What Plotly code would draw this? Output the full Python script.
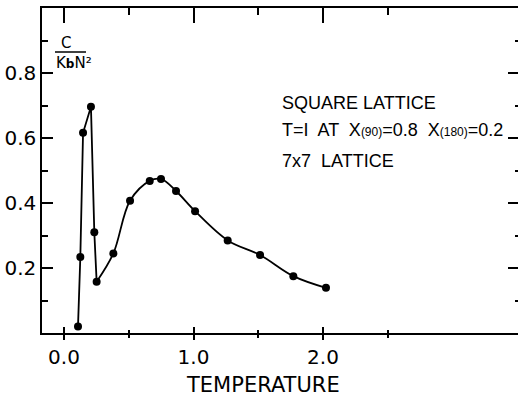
import plotly.graph_objects as go

# data
temperature = [0.108, 0.126, 0.147, 0.208, 0.234, 0.252, 0.381, 0.51, 0.662, 0.749,
               0.865, 1.012, 1.264, 1.514, 1.771, 2.023]
specific_heat = [0.02, 0.234, 0.616, 0.696, 0.31, 0.158, 0.245, 0.407, 0.468, 0.474,
                 0.437, 0.375, 0.285, 0.24, 0.175, 0.139]
peak_end = 6  # sharp low-temperature peak drawn with straight segments up to this index

x_major = [0.0, 1.0, 2.0]
x_major_text = ["0.0", "1.0", "2.0"]
x_minor = [0.5, 1.5, 2.5]
y_major = [0.2, 0.4, 0.6, 0.8]
y_major_text = ["0.2", "0.4", "0.6", "0.8"]
y_minor = [0.1, 0.3, 0.5, 0.7, 0.9]

XR = [-0.17, 3.506]
YR = [0.0, 1.0]
FONT = "DejaVu Sans"
FONT2 = "Liberation Sans"
BLK = "black"

fig = go.Figure()
fig.add_trace(go.Scatter(
    x=temperature[:peak_end], y=specific_heat[:peak_end], mode="lines",
    line=dict(color=BLK, width=1.8), showlegend=False, hoverinfo="skip"))
fig.add_trace(go.Scatter(
    x=temperature[peak_end - 1:], y=specific_heat[peak_end - 1:], mode="lines",
    line=dict(color=BLK, width=1.8, shape="spline", smoothing=1.0),
    showlegend=False, hoverinfo="skip"))
fig.add_trace(go.Scatter(
    x=temperature, y=specific_heat, mode="markers",
    marker=dict(color=BLK, size=8), showlegend=False, hoverinfo="skip"))
# helper traces so overlay axes get drawn
fig.add_trace(go.Scatter(x=temperature, y=specific_heat, mode="none", xaxis="x2", yaxis="y",
                         showlegend=False, hoverinfo="skip"))
fig.add_trace(go.Scatter(x=temperature, y=specific_heat, mode="none", xaxis="x3", yaxis="y",
                         showlegend=False, hoverinfo="skip"))
fig.add_trace(go.Scatter(x=temperature, y=specific_heat, mode="none", xaxis="x", yaxis="y2",
                         showlegend=False, hoverinfo="skip"))

fig.update_layout(
    width=518, height=398,
    margin=dict(l=42, r=0, t=8, b=65),
    paper_bgcolor="white", plot_bgcolor="white",
    font=dict(family=FONT, color=BLK, size=20),
    xaxis=dict(range=XR, showline=True, linecolor=BLK, linewidth=1.5, showgrid=False,
               zeroline=False, ticks="outside", ticklen=5, tickwidth=1.5, tickcolor=BLK,
               tickmode="array", tickvals=x_major, ticktext=x_major_text,
               tickfont=dict(size=20, family=FONT),
               minor=dict(tickmode="array", tickvals=x_minor, ticklen=3, tickwidth=1.5,
                          tickcolor=BLK, ticks="outside")),
    xaxis2=dict(range=XR, overlaying="x", side="bottom", anchor="y", showline=False,
                showgrid=False, zeroline=False, ticks="inside", ticklen=6, tickwidth=1.5,
                tickcolor=BLK, tickmode="array", tickvals=x_major, showticklabels=False,
                minor=dict(tickmode="array", tickvals=x_minor, ticklen=3, tickwidth=1.5,
                           tickcolor=BLK, ticks="inside")),
    xaxis3=dict(range=XR, overlaying="x", side="top", anchor="y", showline=True,
                linecolor=BLK, linewidth=1.5, showgrid=False, zeroline=False,
                ticks="inside", ticklen=15, tickwidth=1.5, tickcolor=BLK,
                tickmode="array", tickvals=x_major, showticklabels=False,
                minor=dict(tickmode="array", tickvals=x_minor, ticklen=7, tickwidth=1.5,
                           tickcolor=BLK, ticks="inside")),
    yaxis=dict(range=YR, showline=True, linecolor=BLK, linewidth=1.5, showgrid=False,
               zeroline=False, ticks="inside", ticklen=11, tickwidth=1.5, tickcolor=BLK,
               tickmode="array", tickvals=y_major, ticktext=y_major_text,
               tickfont=dict(size=20, family=FONT),
               minor=dict(tickmode="array", tickvals=y_minor, ticklen=6, tickwidth=1.5,
                          tickcolor=BLK, ticks="inside")),
    yaxis2=dict(range=YR, overlaying="y", side="right", anchor="x", showline=False,
                showgrid=False, zeroline=False, ticks="inside", ticklen=10, tickwidth=1.5,
                tickcolor=BLK, tickmode="array", tickvals=y_major, showticklabels=False,
                minor=dict(tickmode="array", tickvals=y_minor, ticklen=3, tickwidth=1.5,
                           tickcolor=BLK, ticks="inside")),
)

def px_x(px):
    return (px - 42) / 476.0

def px_y(py):
    return (333 - py) / 325.0

ann = [
    dict(text="SQUARE LATTICE", x=px_x(280), y=px_y(103), xanchor="left", size=18, font=FONT2),
    dict(text="T=I  AT  X<span style='font-size:12px'>(90)</span>=0.8  X<span style='font-size:12px'>(180)</span>=0.2",
         x=px_x(280), y=px_y(130), xanchor="left", size=18, font=FONT2),
    dict(text="7x7  LATTICE", x=px_x(280), y=px_y(161), xanchor="left", size=18, font=FONT2),
    dict(text="C", x=px_x(66), y=px_y(43), xanchor="center", size=15, font=FONT),
    dict(text="K<b><span style='font-size:12px'>b</span></b>N²", x=px_x(74), y=px_y(63),
         xanchor="center", size=15, font=FONT),
    dict(text="TEMPERATURE", x=px_x(263), y=px_y(385), xanchor="center", size=21, font=FONT),
]
for a in ann:
    fig.add_annotation(text=a["text"], x=a["x"], y=a["y"], xref="paper", yref="paper",
                       xanchor=a["xanchor"], yanchor="middle", showarrow=False,
                       font=dict(family=a["font"], size=a["size"], color=BLK))

fig.add_shape(type="line", xref="paper", yref="paper", x0=px_x(55), x1=px_x(86),
              y0=px_y(52), y1=px_y(52), line=dict(color=BLK, width=1.5))

fig.write_html("out.html")
